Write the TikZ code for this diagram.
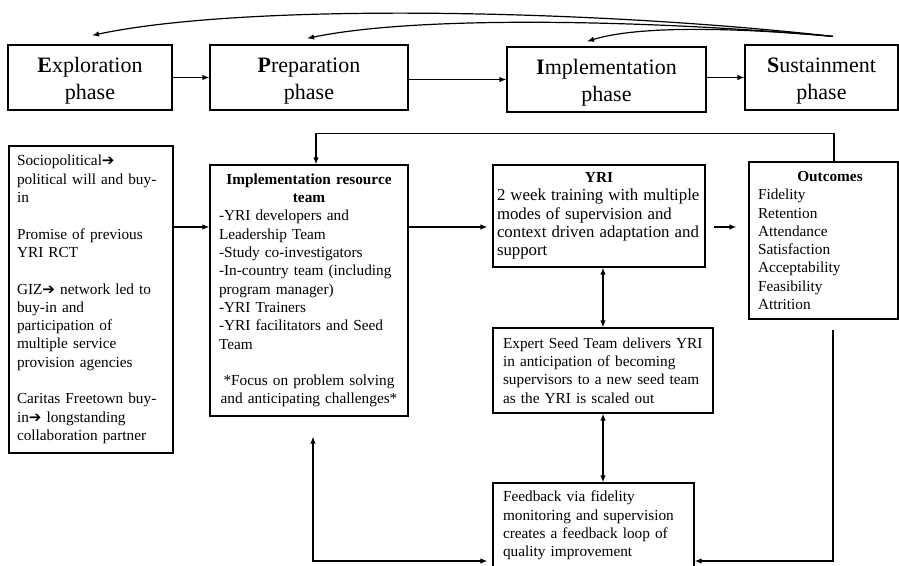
\documentclass[tikz,border=0pt]{standalone}
\usepackage{fontspec}
\setmainfont{Liberation Serif}
\newfontfamily\arrowfont{DejaVu Sans}
\usetikzlibrary{arrows.meta,calc}

\newcommand{\phasefont}{\fontsize{22pt}{27pt}\selectfont}
\newcommand{\bodyfont}{\fontsize{15.3pt}{18.3pt}\selectfont}
\newcommand{\rarr}{{\arrowfont\fontsize{15pt}{18.3pt}\selectfont ➔}}
\newcommand{\tallstrut}{\rule{0pt}{22pt}}

\begin{document}
\begin{tikzpicture}[x=1pt,y=-1pt,
  line width=1.2pt,
  tip/.style={-{Latex[length=7pt,width=5.5pt]}},
  tips/.style={{Latex[length=7pt,width=5.5pt]}-{Latex[length=7pt,width=5.5pt]}},
  phasebox/.style={draw, line width=1.2pt, minimum height=65pt, align=center,
    font=\phasefont, inner sep=0pt},
  infobox/.style={draw, line width=1.2pt, font=\bodyfont, align=left, inner ysep=0pt},
]
\useasboundingbox (0,0) rectangle (899,565);
\clip (0,0) rectangle (899,565);

% phase boxes
\node[phasebox, minimum width=164pt] (expl) at (90,77.5) {\tallstrut\textbf{E}xploration\\phase};
\node[phasebox, minimum width=198pt] (prep) at (309,77.5) {\tallstrut\textbf{P}reparation\\phase};
\node[phasebox, minimum width=199pt] (impl) at (606.5,79.5) {\tallstrut\textbf{I}mplementation\\phase};
\node[phasebox, minimum width=153pt] (sust) at (821.5,77.5) {\tallstrut\textbf{S}ustainment\\phase};

% content boxes
\node[infobox, minimum width=164pt, minimum height=307pt, inner xsep=8pt, text width=148pt]
  (ctx) at (91,299.5) {Sociopolitical\rarr\par political will and buy-\par in\par\mbox{}\par
  Promise of previous\par YRI RCT\par\mbox{}\par
  GIZ\rarr{} network led to\par buy-in and\par participation of\par multiple service\par provision agencies\par\mbox{}\par
  Caritas Freetown buy-\par in\rarr{} longstanding\par collaboration partner};

\node[infobox, minimum width=198pt, minimum height=251pt, inner xsep=9pt, text width=180pt]
  (irt) at (309,290.5) {{\centering\bfseries Implementation resource\par team\par}
  -YRI developers and\par Leadership Team\par -Study co-investigators\par
  -In-country team (including\par program manager)\par -YRI Trainers\par
  -YRI facilitators and Seed\par Team\par\mbox{}\par
  {\centering *Focus on problem solving\par and anticipating challenges*\par}};

\node[infobox, minimum width=212pt, minimum height=102pt, inner xsep=4pt, text width=204pt]
  (yri) at (599,216) {{\centering\bfseries YRI\par}
  {\fontsize{16.8pt}{18.3pt}\selectfont 2 week training with multiple\par modes of supervision and\par
  context driven adaptation and\par support\par}};

\node[infobox, minimum width=149pt, minimum height=157pt, inner xsep=9pt, text width=131pt]
  (outc) at (823.5,240.5) {{\centering\bfseries\hspace*{13pt}Outcomes\par}
  Fidelity\par Retention\par Attendance\par Satisfaction\par Acceptability\par Feasibility\par Attrition};

\node[infobox, minimum width=220pt, minimum height=85pt, inner xsep=10pt, text width=200pt]
  (expert) at (603,370.5) {Expert Seed Team delivers YRI\par in anticipation of becoming\par
  supervisors to a new seed team\par as the YRI is scaled out};

\node[infobox, minimum width=201pt, minimum height=85pt, inner xsep=10pt, text width=181pt]
  (fb) at (593.5,525.5) {Feedback via fidelity\par monitoring and supervision\par
  creates a feedback loop of\par quality improvement};

% phase sequence
\draw[tip] (expl) -- (prep);
\draw[tip] (prep.east |- impl.west) -- (impl.west);
\draw[tip] (impl.east |- sust.west) -- (sust.west);

% feedback arcs from sustainment back to earlier phases
\coordinate (sfrom) at ([xshift=11.5pt,yshift=8pt]sust.north);
\coordinate (eTip) at ([xshift=2pt,yshift=9pt]expl.north);
\coordinate (pTip) at ([xshift=-2pt,yshift=6pt]prep.north);
\coordinate (iTip) at ([xshift=-19.5pt,yshift=5pt]impl.north);
\draw[tip] (sfrom) .. controls (600,10) and (250,2) .. (eTip);
\draw[tip] (sfrom) .. controls (650,20) and (420,15) .. (pTip);
\draw[tip] (sfrom) .. controls (740,28) and (640,25) .. (iTip);

% main flow row
\coordinate (row) at (0,227);
\draw[tip] (ctx.east |- row) -- (irt.west |- row);
\draw[tip] (irt.east |- row) -- ([xshift=-5pt]yri.west |- row);
\draw[tip] ([xshift=8pt]yri.east |- row) -- ([xshift=-12pt]outc.west |- row);

% vertical links
\draw[tips] (expert.north |- yri.south) -- (expert.north);
\draw[tips] (expert.south) -- (expert.south |- fb.north);

% loop from outcomes back to the resource team
\draw[tip] ([xshift=10.5pt]outc.north) -- ++(0,-28) -| ([xshift=7pt]irt.north);

% loop from outcomes into feedback
\draw[tip] ([xshift=9.5pt,yshift=-10pt]outc.south) |- ([yshift=-35.5pt]fb.east);

% link between resource team and feedback
\draw[tips] ([xshift=4pt,yshift=-20pt]irt.south) |- ([xshift=-5pt,yshift=-35.5pt]fb.west);
\end{tikzpicture}
\end{document}
